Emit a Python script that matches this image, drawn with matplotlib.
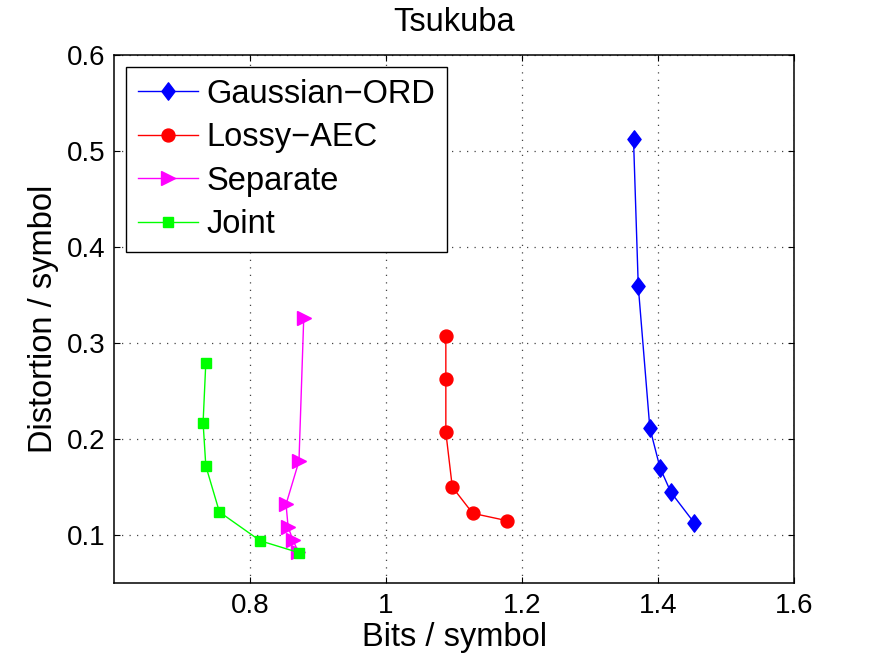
import matplotlib
matplotlib.use("Agg")
import matplotlib.pyplot as plt
from matplotlib.path import Path

plt.rcParams['font.family'] = ['Liberation Sans', 'DejaVu Sans']

title = "Tsukuba"
xlabel = "Bits / symbol"
ylabel = "Distortion / symbol"

series_names = ["Gaussian\u2212ORD", "Lossy\u2212AEC", "Separate", "Joint"]

gauss_x = [1.364, 1.371, 1.388, 1.403, 1.419, 1.453]
gauss_y = [0.512, 0.359, 0.2115, 0.170, 0.1445, 0.113]

lossy_x = [1.088, 1.088, 1.088, 1.0975, 1.1275, 1.1775]
lossy_y = [0.307, 0.263, 0.207, 0.150, 0.1226, 0.115]

sep_x = [0.879, 0.872, 0.853, 0.856, 0.863, 0.871]
sep_y = [0.3257, 0.177, 0.132, 0.1086, 0.0948, 0.0826]

joint_x = [0.735, 0.731, 0.735, 0.755, 0.815, 0.872]
joint_y = [0.2795, 0.217, 0.172, 0.124, 0.094, 0.0816]

xticks = [0.8, 1.0, 1.2, 1.4, 1.6]
xticklabels = ["0.8", "1", "1.2", "1.4", "1.6"]
yticks = [0.1, 0.2, 0.3, 0.4, 0.5, 0.6]
yticklabels = ["0.1", "0.2", "0.3", "0.4", "0.5", "0.6"]

diamond = Path([(0, 1), (0.76, 0), (0, -1), (-0.76, 0), (0, 1)],
               [Path.MOVETO, Path.LINETO, Path.LINETO, Path.LINETO, Path.CLOSEPOLY])

fig = plt.figure(figsize=(8.73, 6.57), dpi=100)
ax = fig.add_axes([0.1306, 0.1126, 0.7789, 0.8037])

ax.plot(gauss_x, gauss_y, color=(0, 0, 1), lw=1.0, marker=diamond, ms=12.5,
        mfc=(0, 0, 1), mec=(0, 0, 1), label=series_names[0], zorder=3)
ax.plot(lossy_x, lossy_y, color=(1, 0, 0), lw=1.0, marker='o', ms=9.3,
        mfc=(1, 0, 0), mec=(1, 0, 0), label=series_names[1], zorder=3)
ax.plot(sep_x, sep_y, color=(1, 0, 1), lw=1.0, marker='>', ms=9.5,
        mfc=(1, 0, 1), mec=(1, 0, 1), label=series_names[2], zorder=3)
ax.plot(joint_x, joint_y, color=(0, 1, 0), lw=1.0, marker='s', ms=6.5,
        mfc=(0, 1, 0), mec=(0, 1, 0), label=series_names[3], zorder=3)

ax.set_xlim(0.6, 1.6)
ax.set_ylim(0.05, 0.6)
ax.set_xticks(xticks)
ax.set_xticklabels(xticklabels)
ax.set_yticks(yticks)
ax.set_yticklabels(yticklabels)

ax.tick_params(direction='in', length=4.5, width=0.8, top=True, right=True,
               labelsize=20, pad=6)
ax.tick_params(axis='x', pad=7)
for s in ax.spines.values():
    s.set_linewidth(1.1)
    s.set_color('black')

ax.grid(True, color='#444444', linestyle=(0, (1, 5)), linewidth=0.9)
ax.set_axisbelow(True)

ax.set_title(title, fontsize=23.5, pad=17)
ax.set_xlabel(xlabel, fontsize=23.5, labelpad=2)
ax.set_ylabel(ylabel, fontsize=23.5, labelpad=6)

leg = ax.legend(loc='upper left', bbox_to_anchor=(0.0176, 0.977), borderaxespad=0,
                fontsize=23.5, fancybox=False, framealpha=1, edgecolor='black',
                handlelength=1.86, handletextpad=0.25, borderpad=0.36,
                labelspacing=0.38, numpoints=1)
leg.get_frame().set_linewidth(1.0)

fig.savefig("out.png", dpi=100)
